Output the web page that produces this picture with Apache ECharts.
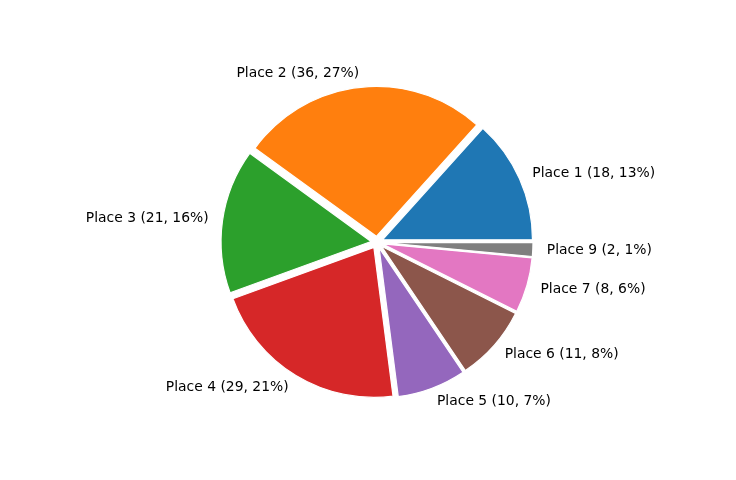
<!DOCTYPE html>
<html>
<head>
<meta charset="utf-8">
<script src="https://cdn.jsdelivr.net/npm/echarts@6/dist/echarts.min.js"></script>
<style>html,body{margin:0;padding:0;background:#fff;}#c{width:736px;height:480px;}</style>
</head>
<body>
<div id="c"></div>
<script>
const categories = ['Place 1', 'Place 2', 'Place 3', 'Place 4', 'Place 5', 'Place 6', 'Place 7', 'Place 9'];
const values = [18, 36, 21, 29, 10, 11, 8, 2];
const colors = ['#1f77b4', '#ff7f0e', '#2ca02c', '#d62728', '#9467bd', '#8c564b', '#e377c2', '#7f7f7f'];

const total = values.reduce((a, b) => a + b, 0);
const data = categories.map((name, i) => ({
  name: name,
  value: values[i],
  selected: true,
  itemStyle: { color: colors[i] }
}));

const chart = echarts.init(document.getElementById('c'), null, { renderer: 'canvas' });
chart.setOption({
  animation: false,
  backgroundColor: '#ffffff',
  series: [{
    type: 'pie',
    center: [377, 242.3],
    radius: 150,
    startAngle: 0,
    clockwise: false,
    selectedMode: 'multiple',
    selectedOffset: 6,
    avoidLabelOverlap: false,
    minAngle: 0,
    itemStyle: { borderColor: '#ffffff', borderWidth: 1.2 },
    select: { itemStyle: { borderColor: '#ffffff', borderWidth: 1.2 } },
    emphasis: { disabled: true },
    label: {
      show: true,
      position: 'outer',
      alignTo: 'none',
      distanceToLabelLine: 0,
      color: '#000000',
      fontFamily: 'DejaVu Sans',
      fontSize: 13.9,
      formatter: function (p) {
        return p.name + ' (' + p.value + ', ' + Math.round(p.value / total * 100) + '%)';
      }
    },
    labelLine: { show: false, length: 14, length2: 0 },
    data: data
  }]
});
</script>
</body>
</html>
